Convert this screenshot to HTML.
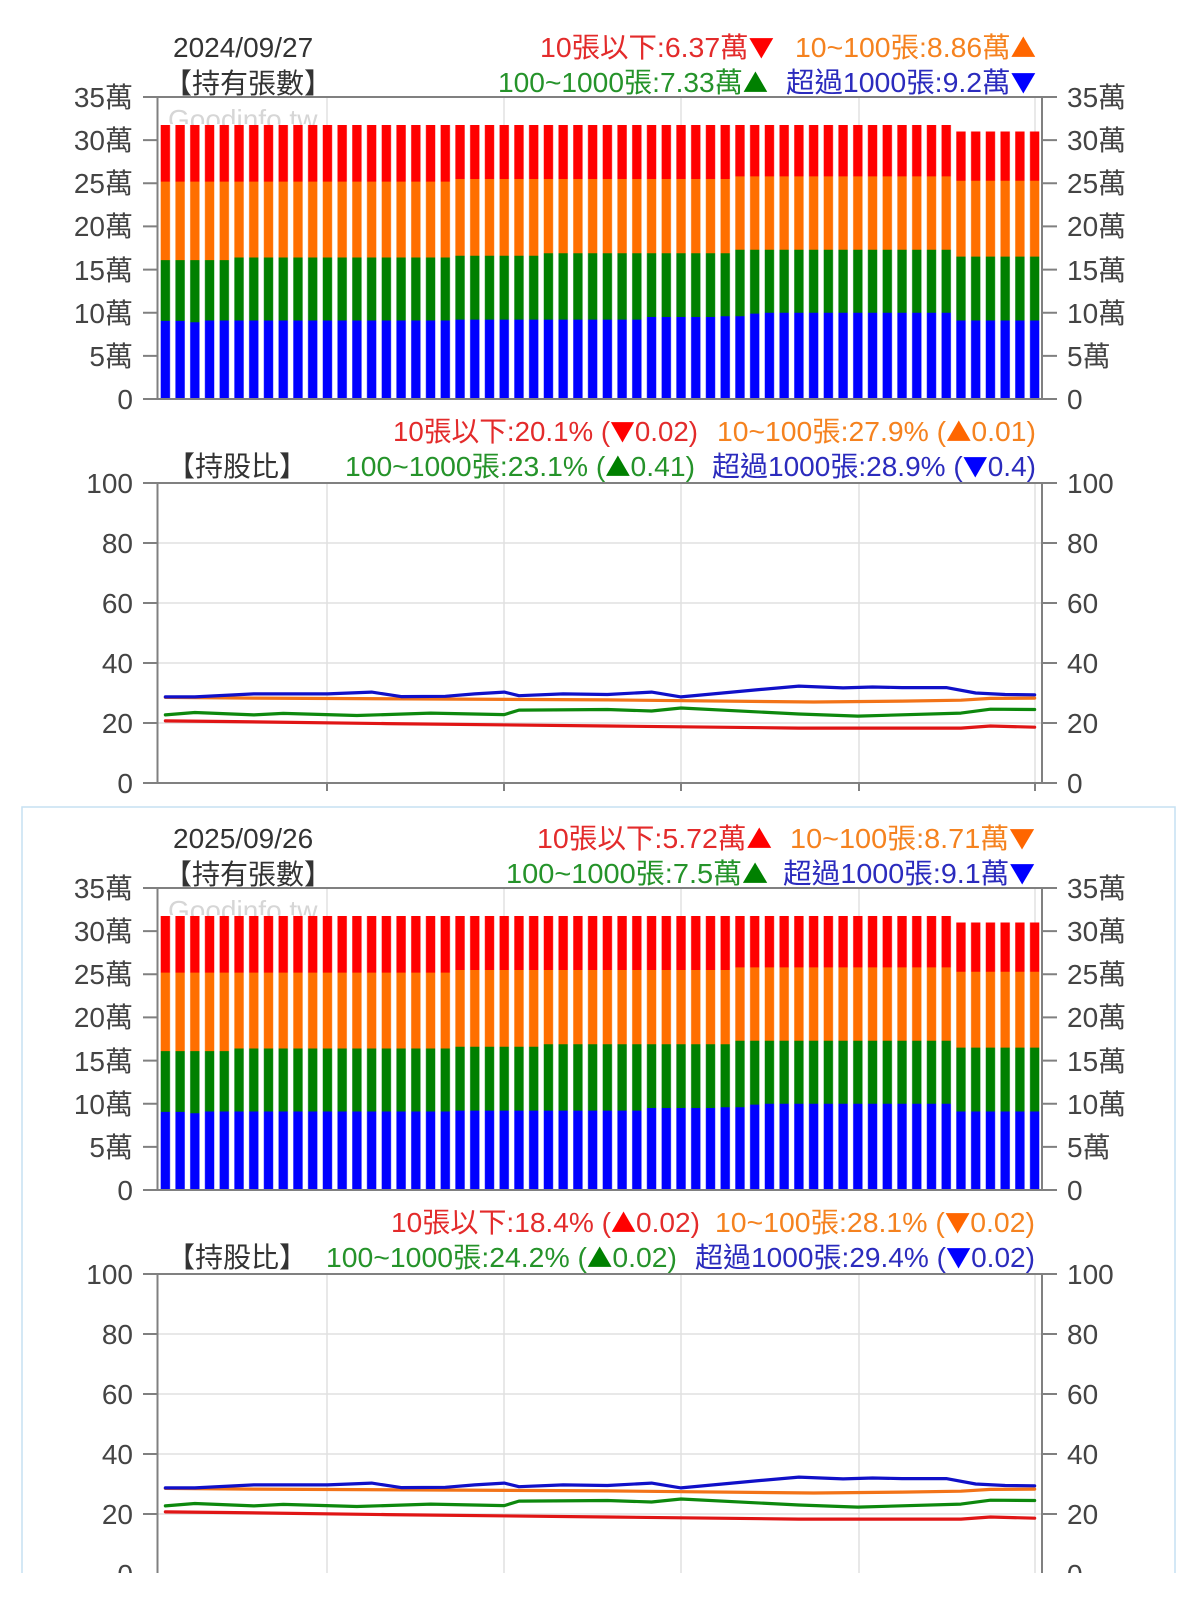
<!DOCTYPE html>
<html>
<head>
<meta charset="utf-8">
<style>
  html,body{margin:0;padding:0;background:#fff;}
  svg{display:block;}
  text{font-family:"Liberation Sans","Noto Sans CJK TC",sans-serif;}
  .tri{font-family:"Noto Sans CJK TC","Noto Sans CJK JP",sans-serif;font-size:25px;}
</style>
</head>
<body>
<svg width="1200" height="1598" viewBox="0 0 1200 1598" xmlns="http://www.w3.org/2000/svg">
<defs>
  <pattern id="gap" patternUnits="userSpaceOnUse" x="158" y="0" width="14.7333" height="20">
    <rect x="-1" y="0" width="3.7" height="20" fill="#fff"/>
    <rect x="12.03" y="0" width="3.7" height="20" fill="#fff"/>
  </pattern>
</defs>
<rect x="0" y="0" width="1200" height="1598" fill="#fff"/>

<!-- ============ CHART 1 ============ -->
<g>
  <text x="173" y="57" font-size="28" fill="#333">2024/09/27</text>
  <text x="164" y="93" font-size="28" fill="#333">【持有張數】</text>
  <text x="774" y="57" font-size="28" fill="#e32b2b" text-anchor="end" textLength="234" lengthAdjust="spacingAndGlyphs">10張以下:6.37萬<tspan class="tri" fill="#f00">▼</tspan></text>
  <text x="1036" y="57" font-size="28" fill="#f5821f" text-anchor="end" textLength="241" lengthAdjust="spacingAndGlyphs">10~100張:8.86萬<tspan class="tri" fill="#ff6600">▲</tspan></text>
  <text x="768" y="92" font-size="28" fill="#25932a" text-anchor="end" textLength="270" lengthAdjust="spacingAndGlyphs">100~1000張:7.33萬<tspan class="tri" fill="#008000">▲</tspan></text>
  <text x="1036" y="92" font-size="28" fill="#2b2bbd" text-anchor="end" textLength="250" lengthAdjust="spacingAndGlyphs">超過1000張:9.2萬<tspan class="tri" fill="#0000ff">▼</tspan></text>

  <path d="M327,97V399M504,97V399M681,97V399M859,97V399M1035,97V399" stroke="#e2e2e2" stroke-width="1.5" fill="none"/>
  <text x="168" y="129" font-size="28" fill="#d6d6d6">Goodinfo.tw</text>
  <path d="M158,399V125H953.6V131.5H1042V399Z" fill="#ff0000"/>
  <path d="M158,399V181.6H452.67V179H732.6V176.4H953.6V180.7H1042V399Z" fill="#ff6f00"/>
  <path d="M158,399V260.1H231.67V257.5H452.67V255.8H541.07V253.2H732.6V249.7H953.6V256.6H1042V399Z" fill="#008000"/>
  <path d="M158,399V320.9H187.47V322.2H202.2V320.5H452.67V319.6H644.2V317H717.87V316.2H747.33V313.6H762.07V312.7H953.6V320.5H1042V399Z" fill="#0000ff"/>
  <rect x="158" y="124" width="884" height="275" fill="url(#gap)"/>
  <path d="M143,97H1057M143,399H1057M157.5,97V399M1042,97V399M143,140.14H157.5M143,183.29H157.5M143,226.43H157.5M143,269.57H157.5M143,312.71H157.5M143,355.86H157.5M1042,140.14H1057M1042,183.29H1057M1042,226.43H1057M1042,269.57H1057M1042,312.71H1057M1042,355.86H1057" stroke="#808080" stroke-width="2" fill="none"/>
  <g font-size="28" fill="#444" text-anchor="end">
    <text x="133" y="107">35萬</text>
    <text x="133" y="150">30萬</text>
    <text x="133" y="193">25萬</text>
    <text x="133" y="236">20萬</text>
    <text x="133" y="280">15萬</text>
    <text x="133" y="323">10萬</text>
    <text x="133" y="366">5萬</text>
    <text x="133" y="409">0</text>
  </g>
  <g font-size="28" fill="#444">
    <text x="1067" y="107">35萬</text>
    <text x="1067" y="150">30萬</text>
    <text x="1067" y="193">25萬</text>
    <text x="1067" y="236">20萬</text>
    <text x="1067" y="280">15萬</text>
    <text x="1067" y="323">10萬</text>
    <text x="1067" y="366">5萬</text>
    <text x="1067" y="409">0</text>
  </g>

  <text x="698" y="441" font-size="28" fill="#e32b2b" text-anchor="end" textLength="305" lengthAdjust="spacingAndGlyphs">10張以下:20.1% (<tspan class="tri" fill="#f00">▼</tspan>0.02)</text>
  <text x="1036" y="441" font-size="28" fill="#f5821f" text-anchor="end" textLength="319" lengthAdjust="spacingAndGlyphs">10~100張:27.9% (<tspan class="tri" fill="#ff6600">▲</tspan>0.01)</text>
  <text x="167" y="476" font-size="28" fill="#333">【持股比】</text>
  <text x="695" y="476" font-size="28" fill="#25932a" text-anchor="end" textLength="350" lengthAdjust="spacingAndGlyphs">100~1000張:23.1% (<tspan class="tri" fill="#008000">▲</tspan>0.41)</text>
  <text x="1036" y="476" font-size="28" fill="#2b2bbd" text-anchor="end" textLength="324" lengthAdjust="spacingAndGlyphs">超過1000張:28.9% (<tspan class="tri" fill="#0000ff">▼</tspan>0.4)</text>

  <path d="M157.5,543H1042M157.5,603H1042M157.5,663H1042M157.5,723H1042M327,483V783M504,483V783M681,483V783M859,483V783M1035,483V783" stroke="#e0e0e0" stroke-width="1.5" fill="none"/>
  <path d="M143,483H1057M143,783H1057M157.5,483V783M1042,483V783M143,543H157.5M143,603H157.5M143,663H157.5M143,723H157.5M1042,543H1057M1042,603H1057M1042,663H1057M1042,723H1057M327,783V791M504,783V791M681,783V791M859,783V791M1035,783V791" stroke="#808080" stroke-width="2" fill="none"/>
  <g font-size="28" fill="#444" text-anchor="end">
    <text x="133" y="493">100</text>
    <text x="133" y="553">80</text>
    <text x="133" y="613">60</text>
    <text x="133" y="673">40</text>
    <text x="133" y="733">20</text>
    <text x="133" y="793">0</text>
  </g>
  <g font-size="28" fill="#444">
    <text x="1067" y="493">100</text>
    <text x="1067" y="553">80</text>
    <text x="1067" y="613">60</text>
    <text x="1067" y="673">40</text>
    <text x="1067" y="733">20</text>
    <text x="1067" y="793">0</text>
  </g>
  <g fill="none" stroke-width="3.2" stroke-linejoin="round" stroke-linecap="round">
    <polyline stroke="#e01515" points="165.37,720.9 224.30,721.5 386.37,723.6 607.37,726 798.90,728.1 960.97,728.1 990.44,726 1034.64,727.2"/>
    <polyline stroke="#0d880d" points="165.37,714.9 194.84,712.5 253.77,714.9 283.24,713.4 356.90,715.5 430.57,713.1 504.24,714.6 518.97,710.1 607.37,709.5 651.57,711 681.04,708 798.90,714 857.84,716.1 960.97,713.1 990.44,709.2 1034.64,709.5"/>
    <polyline stroke="#f27318" points="165.37,697.4 253.77,698.1 607.37,699.9 813.64,702 902.04,701.1 960.97,700.2 990.44,698.4 1034.64,698.1"/>
    <polyline stroke="#1010c8" points="165.37,696.9 194.84,696.9 253.77,693.9 327.44,693.9 371.64,692.1 401.10,696.6 445.30,696.3 474.77,693.9 504.24,692.1 518.97,695.7 563.17,693.9 607.37,694.5 651.57,692.1 681.04,696.9 754.70,690 798.90,686.1 843.10,687.9 872.57,687 902.04,687.6 946.24,687.6 975.70,693 1005.17,694.5 1034.64,694.8"/>
  </g>
</g>

<rect x="22" y="807" width="1153" height="820" fill="none" stroke="#c6e1f2" stroke-width="1.5"/>

<!-- ============ CHART 2 ============ -->
<g transform="translate(0,791)">
  <text x="173" y="57" font-size="28" fill="#333">2025/09/26</text>
  <text x="164" y="93" font-size="28" fill="#333">【持有張數】</text>
  <text x="772" y="57" font-size="28" fill="#e32b2b" text-anchor="end" textLength="235" lengthAdjust="spacingAndGlyphs">10張以下:5.72萬<tspan class="tri" fill="#f00">▲</tspan></text>
  <text x="1035" y="57" font-size="28" fill="#f5821f" text-anchor="end" textLength="245" lengthAdjust="spacingAndGlyphs">10~100張:8.71萬<tspan class="tri" fill="#ff6600">▼</tspan></text>
  <text x="768" y="92" font-size="28" fill="#25932a" text-anchor="end" textLength="262" lengthAdjust="spacingAndGlyphs">100~1000張:7.5萬<tspan class="tri" fill="#008000">▲</tspan></text>
  <text x="1035" y="92" font-size="28" fill="#2b2bbd" text-anchor="end" textLength="252" lengthAdjust="spacingAndGlyphs">超過1000張:9.1萬<tspan class="tri" fill="#0000ff">▼</tspan></text>

  <path d="M327,97V399M504,97V399M681,97V399M859,97V399M1035,97V399" stroke="#e2e2e2" stroke-width="1.5" fill="none"/>
  <text x="168" y="129" font-size="28" fill="#d6d6d6">Goodinfo.tw</text>
  <path d="M158,399V125H953.6V131.5H1042V399Z" fill="#ff0000"/>
  <path d="M158,399V181.6H452.67V179H732.6V176.4H953.6V180.7H1042V399Z" fill="#ff6f00"/>
  <path d="M158,399V260.1H231.67V257.5H452.67V255.8H541.07V253.2H732.6V249.7H953.6V256.6H1042V399Z" fill="#008000"/>
  <path d="M158,399V320.9H187.47V322.2H202.2V320.5H452.67V319.6H644.2V317H717.87V316.2H747.33V313.6H762.07V312.7H953.6V320.5H1042V399Z" fill="#0000ff"/>
  <rect x="158" y="124" width="884" height="275" fill="url(#gap)"/>
  <path d="M143,97H1057M143,399H1057M157.5,97V399M1042,97V399M143,140.14H157.5M143,183.29H157.5M143,226.43H157.5M143,269.57H157.5M143,312.71H157.5M143,355.86H157.5M1042,140.14H1057M1042,183.29H1057M1042,226.43H1057M1042,269.57H1057M1042,312.71H1057M1042,355.86H1057" stroke="#808080" stroke-width="2" fill="none"/>
  <g font-size="28" fill="#444" text-anchor="end">
    <text x="133" y="107">35萬</text>
    <text x="133" y="150">30萬</text>
    <text x="133" y="193">25萬</text>
    <text x="133" y="236">20萬</text>
    <text x="133" y="280">15萬</text>
    <text x="133" y="323">10萬</text>
    <text x="133" y="366">5萬</text>
    <text x="133" y="409">0</text>
  </g>
  <g font-size="28" fill="#444">
    <text x="1067" y="107">35萬</text>
    <text x="1067" y="150">30萬</text>
    <text x="1067" y="193">25萬</text>
    <text x="1067" y="236">20萬</text>
    <text x="1067" y="280">15萬</text>
    <text x="1067" y="323">10萬</text>
    <text x="1067" y="366">5萬</text>
    <text x="1067" y="409">0</text>
  </g>

  <text x="700" y="441" font-size="28" fill="#e32b2b" text-anchor="end" textLength="309" lengthAdjust="spacingAndGlyphs">10張以下:18.4% (<tspan class="tri" fill="#f00">▲</tspan>0.02)</text>
  <text x="1035" y="441" font-size="28" fill="#f5821f" text-anchor="end" textLength="320" lengthAdjust="spacingAndGlyphs">10~100張:28.1% (<tspan class="tri" fill="#ff6600">▼</tspan>0.02)</text>
  <text x="167" y="476" font-size="28" fill="#333">【持股比】</text>
  <text x="677" y="476" font-size="28" fill="#25932a" text-anchor="end" textLength="351" lengthAdjust="spacingAndGlyphs">100~1000張:24.2% (<tspan class="tri" fill="#008000">▲</tspan>0.02)</text>
  <text x="1035" y="476" font-size="28" fill="#2b2bbd" text-anchor="end" textLength="340" lengthAdjust="spacingAndGlyphs">超過1000張:29.4% (<tspan class="tri" fill="#0000ff">▼</tspan>0.02)</text>

  <path d="M157.5,543H1042M157.5,603H1042M157.5,663H1042M157.5,723H1042M327,483V783M504,483V783M681,483V783M859,483V783M1035,483V783" stroke="#e0e0e0" stroke-width="1.5" fill="none"/>
  <path d="M143,483H1057M143,783H1057M157.5,483V783M1042,483V783M143,543H157.5M143,603H157.5M143,663H157.5M143,723H157.5M1042,543H1057M1042,603H1057M1042,663H1057M1042,723H1057M327,783V791M504,783V791M681,783V791M859,783V791M1035,783V791" stroke="#808080" stroke-width="2" fill="none"/>
  <g font-size="28" fill="#444" text-anchor="end">
    <text x="133" y="493">100</text>
    <text x="133" y="553">80</text>
    <text x="133" y="613">60</text>
    <text x="133" y="673">40</text>
    <text x="133" y="733">20</text>
    <text x="133" y="793">0</text>
  </g>
  <g font-size="28" fill="#444">
    <text x="1067" y="493">100</text>
    <text x="1067" y="553">80</text>
    <text x="1067" y="613">60</text>
    <text x="1067" y="673">40</text>
    <text x="1067" y="733">20</text>
    <text x="1067" y="793">0</text>
  </g>
  <g fill="none" stroke-width="3.2" stroke-linejoin="round" stroke-linecap="round">
    <polyline stroke="#e01515" points="165.37,720.9 224.30,721.5 386.37,723.6 607.37,726 798.90,728.1 960.97,728.1 990.44,726 1034.64,727.2"/>
    <polyline stroke="#0d880d" points="165.37,714.9 194.84,712.5 253.77,714.9 283.24,713.4 356.90,715.5 430.57,713.1 504.24,714.6 518.97,710.1 607.37,709.5 651.57,711 681.04,708 798.90,714 857.84,716.1 960.97,713.1 990.44,709.2 1034.64,709.5"/>
    <polyline stroke="#f27318" points="165.37,697.4 253.77,698.1 607.37,699.9 813.64,702 902.04,701.1 960.97,700.2 990.44,698.4 1034.64,698.1"/>
    <polyline stroke="#1010c8" points="165.37,696.9 194.84,696.9 253.77,693.9 327.44,693.9 371.64,692.1 401.10,696.6 445.30,696.3 474.77,693.9 504.24,692.1 518.97,695.7 563.17,693.9 607.37,694.5 651.57,692.1 681.04,696.9 754.70,690 798.90,686.1 843.10,687.9 872.57,687 902.04,687.6 946.24,687.6 975.70,693 1005.17,694.5 1034.64,694.8"/>
  </g>
</g>

<rect x="0" y="1573" width="1200" height="25" fill="#fff"/>
</svg>
</body>
</html>
